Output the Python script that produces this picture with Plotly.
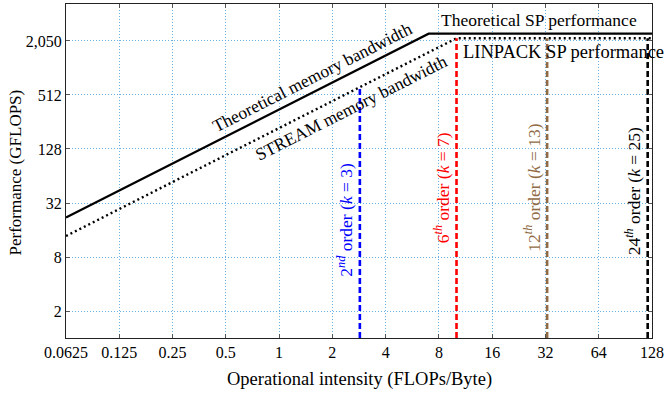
import math
import plotly.graph_objects as go

# ---- data ----
theo_x = [0.0625, 7.0, 128]
theo_y = [22, 2470, 2470]
stream_x = [0.0625, 10.06, 128]
stream_y = [13.7, 2200, 2200]

order_x = [2.86, 10.06, 32.7, 121]
order_top = [626, 2200, 2200, 2200]
order_labels = ["2<sup><i>nd</i></sup> order (<i>k</i> = 3)",
                "6<sup><i>th</i></sup> order (<i>k</i> = 7)",
                "12<sup><i>th</i></sup> order (<i>k</i> = 13)",
                "24<sup><i>th</i></sup> order (<i>k</i> = 25)"]
order_label_y = [20.8, 47.5, 47.5, 42.8]
order_colors = ["#0000ff", "#ff0000", "#8f6a44", "#000000"]

x_ticks = [0.0625, 0.125, 0.25, 0.5, 1, 2, 4, 8, 16, 32, 64, 128]
x_ticktext = ["0.0625", "0.125", "0.25", "0.5", "1", "2", "4", "8", "16", "32", "64", "128"]
y_ticks = [2, 8, 32, 128, 512, 2048]
y_ticktext = ["2", "8", "32", "128", "512", "2,050"]

x_title = "Operational intensity (FLOPs/Byte)"
y_title = "Performance (GFLOPS)"

y_min = 1
FONT = "Liberation Serif"
GRID = "rgba(90,170,225,0.9)"
ASZ = 17.5

fig = go.Figure()

fig.add_trace(go.Scatter(x=theo_x, y=theo_y, mode="lines",
                         line=dict(color="black", width=2.2), showlegend=False))
fig.add_trace(go.Scatter(x=stream_x, y=stream_y, mode="lines",
                         line=dict(color="black", width=2.4, dash="2px,3px"), showlegend=False))

for xv, top, col in zip(order_x, order_top, order_colors):
    fig.add_trace(go.Scatter(x=[xv, xv], y=[y_min, top], mode="lines",
                             line=dict(color=col, width=2.6, dash="6px,3px"), showlegend=False))

ann = []
ang = -math.degrees(math.atan(27 / 53.3))
ann.append(dict(x=math.log10(1.55), y=math.log10(546), text="Theoretical memory bandwidth",
                textangle=ang, showarrow=False, font=dict(size=ASZ, color="black", family=FONT),
                xref="x", yref="y", yshift=15))
ann.append(dict(x=math.log10(2.54), y=math.log10(557), text="STREAM memory bandwidth",
                textangle=ang, showarrow=False, font=dict(size=ASZ, color="black", family=FONT),
                xref="x", yref="y", yshift=-16))
ann.append(dict(x=math.log10(29.6), y=math.log10(theo_y[-1]), text="Theoretical SP performance",
                showarrow=False, font=dict(size=ASZ, color="black", family=FONT),
                xref="x", yref="y", yshift=14))
ann.append(dict(x=math.log10(10.6), y=math.log10(stream_y[-1]), text="LINPACK SP performance",
                showarrow=False, font=dict(size=18.5, color="black", family=FONT),
                xref="x", yref="y", yshift=-14, xanchor="left"))

for xv, ly, txt, col in zip(order_x, order_label_y, order_labels, order_colors):
    ann.append(dict(x=math.log10(xv), y=math.log10(ly), text=txt, textangle=-90,
                    showarrow=False, font=dict(size=ASZ, color=col, family=FONT),
                    xref="x", yref="y", xshift=-15))

# axis titles
ann.append(dict(x=0.5017, y=-0.1257, xref="paper", yref="paper", text=x_title,
                showarrow=False, xanchor="center", yanchor="middle",
                font=dict(size=18.5, color="black", family=FONT)))
ann.append(dict(x=-0.0862, y=0.497, xref="paper", yref="paper", text=y_title, textangle=-90,
                showarrow=False, xanchor="center", yanchor="middle",
                font=dict(size=17, color="black", family=FONT)))

fig.update_layout(
    width=664, height=393,
    margin=dict(l=66, r=12, t=4, b=55),
    paper_bgcolor="white", plot_bgcolor="white",
    font=dict(family=FONT, size=16, color="black"),
    annotations=ann,
    xaxis=dict(type="log", range=[math.log10(0.0625), math.log10(128)],
               tickvals=x_ticks, ticktext=x_ticktext, automargin=False,
               showgrid=True, gridcolor=GRID, griddash="1px,2px", gridwidth=1,
               showline=True, linecolor="#222", linewidth=1, mirror="allticks",
               ticks="inside", ticklen=4, tickcolor="#555",
               zeroline=False),
    yaxis=dict(type="log", range=[0, math.log10(2) * 12.37],
               tickvals=y_ticks, ticktext=y_ticktext, automargin=False,
               showgrid=True, gridcolor=GRID, griddash="1px,2px", gridwidth=1,
               showline=True, linecolor="#222", linewidth=1, mirror="allticks",
               ticks="inside", ticklen=4, tickcolor="#555",
               zeroline=False),
)

fig.write_html("out.html", config={"displayModeBar": False},
               post_script="document.body.style.margin='0';document.body.style.overflow='hidden';")
